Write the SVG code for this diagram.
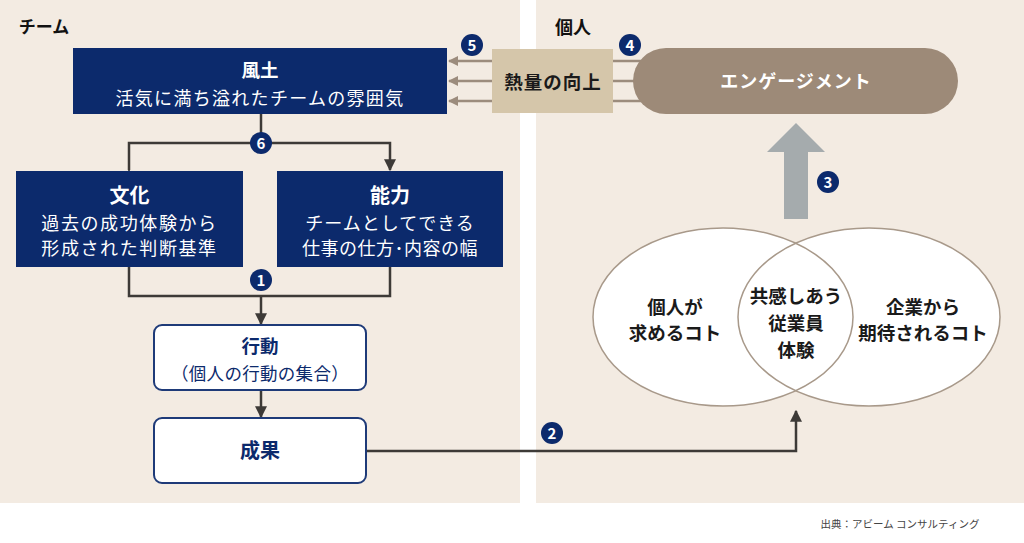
<svg xmlns="http://www.w3.org/2000/svg" width="1024" height="543" viewBox="0 0 1024 543">
<defs>
<style>
text{font-family:"Noto Sans CJK JP","Noto Sans",sans-serif;text-anchor:middle}
.panel{fill:#f3ebe2}
.navy{fill:#0c2a6c}
.wt{fill:#fff}
.t-b{font-weight:700}
.conn{fill:none;stroke:#3d3a37;stroke-width:2.5}
.warm{fill:none;stroke:#9c8c7d;stroke-width:2.5}
.badge circle{fill:#0c2a6c}
.badge text{fill:#fff;font-size:15px;font-weight:700}
.wbox{fill:#fff;stroke:#1e3a78;stroke-width:2}
.ell{fill:none;stroke:#a8998a;stroke-width:1.5}
.vt{font-weight:700;font-size:18.5px;fill:#1a1a1a}
</style>
<marker id="ah" viewBox="0 0 10 10" refX="9" refY="5" markerWidth="4.8" markerHeight="4.8" orient="auto" markerUnits="strokeWidth">
<path d="M0,0 L10,5 L0,10 z" fill="#3d3a37"/>
</marker>
<marker id="ahw" viewBox="0 0 10 10" refX="9" refY="5" markerWidth="4" markerHeight="4" orient="auto" markerUnits="strokeWidth">
<path d="M0,0 L10,5 L0,10 z" fill="#9c8c7d"/>
</marker>
</defs>
<rect width="1024" height="543" fill="#fff"/>
<rect class="panel" x="0" y="0" width="520" height="503"/>
<rect class="panel" x="536" y="0" width="488" height="503"/>

<text x="44" y="33" class="t-b" font-size="17" fill="#111">チーム</text>
<text x="573" y="34" class="t-b" font-size="18" fill="#111">個人</text>

<g id="connectors">
<line class="warm" x1="492" y1="61" x2="449" y2="61" marker-end="url(#ahw)"/>
<line class="warm" x1="492" y1="81" x2="449" y2="81" marker-end="url(#ahw)"/>
<line class="warm" x1="492" y1="101" x2="449" y2="101" marker-end="url(#ahw)"/>
<line class="warm" x1="613" y1="61" x2="650" y2="61"/>
<line class="warm" x1="613" y1="81" x2="650" y2="81"/>
<line class="warm" x1="613" y1="101" x2="650" y2="101"/>
<line class="conn" x1="261" y1="114" x2="261" y2="143"/>
<polyline class="conn" points="129,170 129,143 390,143 390,170" marker-start="url(#ah)" marker-end="url(#ah)"/>
<polyline class="conn" points="129,267 129,296 390,296 390,267"/>
<line class="conn" x1="261" y1="296" x2="261" y2="324" marker-end="url(#ah)"/>
<line class="conn" x1="261" y1="390" x2="261" y2="417" marker-end="url(#ah)"/>
<polyline class="conn" points="366,451 796,451 796,411" marker-end="url(#ah)"/>
<path d="M784,219 L784,152 L767,152 L796,123 L825,152 L808,152 L808,219 Z" fill="#a5abad"/>
</g>

<g id="fudo">
<rect class="navy" x="73" y="48" width="374" height="66"/>
<text x="260" y="77" class="wt t-b" font-size="18.5">風土</text>
<text x="260" y="105" class="wt" font-size="18" letter-spacing="1.3">活気に満ち溢れたチームの雰囲気</text>
</g>

<g id="netsuryo">
<rect x="492" y="49" width="121" height="64" fill="#d5c6aa"/>
<text x="553" y="89" class="t-b" font-size="18.5" fill="#1a1a1a" letter-spacing="1">熱量の向上</text>
</g>

<g id="engagement">
<rect x="633" y="48" width="325" height="66" rx="33" fill="#9d8a78"/>
<text x="796" y="88" class="wt t-b" font-size="18" letter-spacing="1">エンゲージメント</text>
</g>

<g id="bunka">
<rect class="navy" x="16" y="171" width="227" height="96"/>
<text x="129.5" y="203" class="wt t-b" font-size="20">文化</text>
<text x="129.5" y="230" class="wt" font-size="18" letter-spacing="1.6">過去の成功体験から</text>
<text x="129.5" y="255" class="wt" font-size="18" letter-spacing="1.6">形成された判断基準</text>
</g>

<g id="noryoku">
<rect class="navy" x="277" y="171" width="226" height="96"/>
<text x="390" y="203" class="wt t-b" font-size="20">能力</text>
<text x="390" y="230" class="wt" font-size="18" letter-spacing="1">チームとしてできる</text>
<text x="390" y="255" class="wt" font-size="18" letter-spacing="0.5">仕事の仕方･内容の幅</text>
</g>

<g id="kodo">
<rect class="wbox" x="154" y="325" width="212" height="65" rx="8"/>
<text x="260" y="353" class="t-b" font-size="18.5" fill="#0c2a6c">行動</text>
<text x="260" y="380" font-size="17.5" fill="#0c2a6c" letter-spacing="0.3">（個人の行動の集合）</text>
</g>

<g id="seika">
<rect class="wbox" x="154" y="418" width="212" height="65" rx="8"/>
<text x="260" y="458" class="t-b" font-size="20" fill="#0c2a6c">成果</text>
</g>

<g id="venn">
<ellipse cx="723" cy="317" rx="130" ry="89" fill="#fff"/>
<ellipse cx="869" cy="317" rx="131" ry="89" fill="#fff"/>
<ellipse class="ell" cx="723" cy="317" rx="130" ry="89"/>
<ellipse class="ell" cx="869" cy="317" rx="131" ry="89"/>
<text x="675" y="314" class="vt">個人が</text>
<text x="675" y="340" class="vt">求めるコト</text>
<text x="796" y="303" class="vt">共感しあう</text>
<text x="796" y="330" class="vt">従業員</text>
<text x="796" y="357" class="vt">体験</text>
<text x="923" y="314" class="vt">企業から</text>
<text x="923" y="340" class="vt">期待されるコト</text>
</g>

<g id="badges">
<g class="badge"><circle cx="261" cy="280" r="11"/><text x="261" y="285.5">1</text></g>
<g class="badge"><circle cx="552" cy="433" r="11"/><text x="552" y="438.5">2</text></g>
<g class="badge"><circle cx="828" cy="182" r="11"/><text x="828" y="187.5">3</text></g>
<g class="badge"><circle cx="630" cy="45" r="11"/><text x="630" y="50.5">4</text></g>
<g class="badge"><circle cx="472" cy="45" r="11"/><text x="472" y="50.5">5</text></g>
<g class="badge"><circle cx="261" cy="143" r="11"/><text x="261" y="148.5">6</text></g>
</g>

<text x="900" y="528" font-size="10.5" fill="#444">出典：アビーム コンサルティング</text>
</svg>
